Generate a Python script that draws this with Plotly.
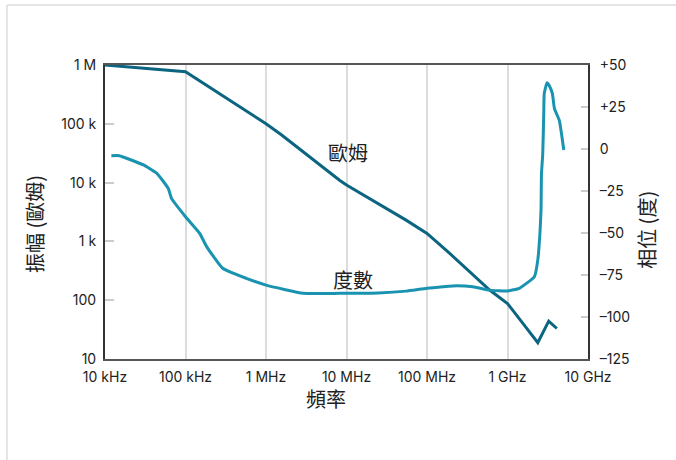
import plotly.graph_objects as go
from plotly.subplots import make_subplots

# Impedance magnitude (ohms) versus frequency (Hz)
freq_ohm = [1e4, 1e5, 1e6, 1.55e6, 8.2e6, 1e7, 5.5e7, 1e8, 1.9e8, 6e8, 1e9, 2.38e9, 3.25e9, 4.1e9]
ohm = [1e6, 7.7e5, 1.0e5, 6.5e4, 1.1e4, 9.1e3, 2.3e3, 1.37e3, 630, 149, 88, 19, 44, 33]

# Phase (degrees) versus frequency (Hz)
freq_deg = [1.2e4, 1.5e4, 3e4, 4.4e4, 6.1e4, 6.7e4, 1e5, 1.5e5, 1.83e5, 2.9e5, 5.7e5, 1e6,
            2.9e6, 8.2e6, 2.5e7, 5.5e7, 1e8, 2.1e8, 3.7e8, 6e8, 1e9, 1.4e9, 2.16e9, 2.38e9, 2.53e9,
            2.61e9, 2.64e9, 2.74e9, 2.82e9, 2.86e9, 3.1e9, 3.32e9, 3.61e9, 3.83e9, 4.4e9, 5.0e9]
deg = [-4, -4, -9.5, -14.5, -23.4, -29.4, -40.3, -50.2, -58.1, -71, -77, -81,
       -85.9, -85.9, -85.7, -84.6, -82.9, -81.5, -82, -84, -84.5, -82.9, -76, -66, -50,
       -36, -15, -3, 21, 33, 39.5, 37.5, 33, 24, 17, -0.6]

x_tickvals = [1e4, 1e5, 1e6, 1e7, 1e8, 1e9, 1e10]
x_ticktext = ["10 kHz", "100 kHz", "1 MHz", "10 MHz", "100 MHz", "1 GHz", "10 GHz"]
y_tickvals = [10, 100, 1e3, 1e4, 1e5, 1e6]
y_ticktext = ["10", "100", "1 k", "10 k", "100 k", "1 M"]
y2_tickvals = [50, 25, 0, -25, -50, -75, -100, -125]
y2_ticktext = ["+50", "+25", "0", "–25", "–50", "–75", "–100", "–125"]

OHM_COLOR = "#0b6580"
DEG_COLOR = "#1993b0"
CJK = "Noto Sans CJK TC"
TICK_FONT = dict(family="Inter", size=14, color="#222")

fig = make_subplots(specs=[[{"secondary_y": True}]])

fig.add_trace(go.Scatter(x=freq_ohm, y=ohm, mode="lines",
                         line=dict(color=OHM_COLOR, width=3), name="歐姆"),
              secondary_y=False)
fig.add_trace(go.Scatter(x=freq_deg, y=deg, mode="lines",
                         line=dict(color=DEG_COLOR, width=3, shape="spline", smoothing=0.4),
                         name="度數"),
              secondary_y=True)

fig.update_xaxes(type="log", range=[4, 10], domain=[0, 1],
                 tickvals=x_tickvals, ticktext=x_ticktext,
                 showgrid=True, gridcolor="#dcdcdc", gridwidth=1.5,
                 showline=True, linecolor="#555", linewidth=2, mirror=True,
                 ticks="", tickfont=TICK_FONT, ticklabelstandoff=4, zeroline=False)
fig.update_yaxes(type="log", range=[1, 6], tickvals=y_tickvals, ticktext=y_ticktext,
                 showgrid=False, showline=True, linecolor="#333", linewidth=2,
                 ticks="inside", ticklen=9, tickcolor="#cccccc", tickwidth=1.5,
                 tickfont=TICK_FONT, ticklabelstandoff=4, zeroline=False,
                 secondary_y=False)
fig.update_yaxes(range=[-125, 50], tickvals=y2_tickvals, ticktext=y2_ticktext,
                 showgrid=False, showline=True, linecolor="#333", linewidth=2,
                 ticks="inside", ticklen=7, tickcolor="#cccccc", tickwidth=1.5,
                 tickfont=TICK_FONT, ticklabelstandoff=7, zeroline=False,
                 secondary_y=True)

annotations = [
    dict(text="歐姆", x=0.503, y=0.704, font=dict(family=CJK, size=20, color="#222")),
    dict(text="度數", x=0.513, y=0.272, font=dict(family=CJK, size=20, color="#222")),
    dict(text="振幅 (歐姆)", x=-0.147, y=0.459, textangle=-90,
         font=dict(family=CJK, size=20, color="#222")),
    dict(text="相位 (度)", x=1.122, y=0.439, textangle=-90,
         font=dict(family=CJK, size=20, color="#222")),
    dict(text="頻率", x=0.458, y=-0.133, font=dict(family=CJK, size=20, color="#222")),
]
for a in annotations:
    a.update(xref="paper", yref="paper", showarrow=False, xanchor="center", yanchor="middle")

# Light frame along the top and left edges of the page
shapes = [
    dict(type="line", xref="paper", yref="paper", x0=-0.203, x1=1.2, y0=1.204, y1=1.204,
         line=dict(color="#dddddd", width=1.5)),
    dict(type="line", xref="paper", yref="paper", x0=-0.203, x1=-0.203, y0=1.204, y1=-0.4,
         line=dict(color="#dddddd", width=1.5)),
]

fig.update_layout(
    width=676, height=460,
    margin=dict(l=105, r=88, t=65, b=101),
    paper_bgcolor="white", plot_bgcolor="white",
    showlegend=False,
    annotations=annotations,
    shapes=shapes,
)

fig.write_html("out.html")
